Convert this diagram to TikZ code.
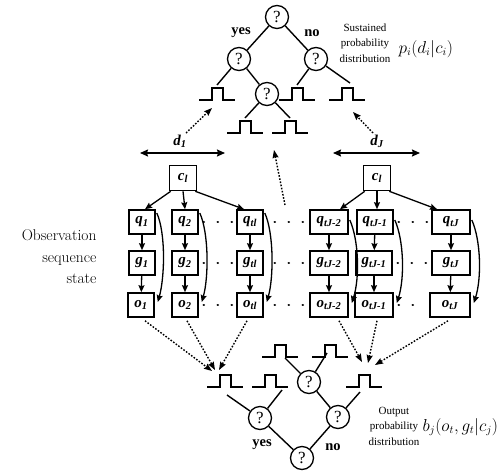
\documentclass[tikz,border=0pt]{standalone}
\usepackage{fontspec}
\newfontfamily\tnr{Liberation Serif}
\usetikzlibrary{arrows.meta,calc}
\begin{document}
\begin{tikzpicture}[x=1pt,y=-1pt,
  qnode/.style={circle,draw,line width=1.3pt,minimum size=23pt,inner sep=0pt,font=\tnr\fontsize{17}{17}\selectfont},
  tl/.style={line width=1.4pt},
  bx/.style={draw,line width=1.6pt,minimum height=24pt,inner sep=0pt,fill=white,font=\tnr\bfseries\itshape\fontsize{15}{15}\selectfont},
  arr/.style={line width=1.3pt,-{Stealth[length=7pt,width=6pt,inset=1pt]}},
  darr/.style={line width=1.4pt,dash pattern=on 1.6pt off 1.6pt,-{Stealth[length=8pt,width=6pt,inset=1pt]}},
  dbl/.style={line width=1.4pt,{Stealth[length=8pt,width=7pt,inset=1pt]}-{Stealth[length=8pt,width=7pt,inset=1pt]}},
  dots/.style={line width=2.8pt,line cap=round,dash pattern=on 0.01pt off 13.99pt},
  yn/.style={font=\tnr\bfseries\fontsize{14.5}{14.5}\selectfont},
  lbl/.style={font=\tnr\fontsize{11}{15.5}\selectfont,align=center},
  dlab/.style={font=\tnr\bfseries\itshape\fontsize{15}{15}\selectfont},
  fml/.style={anchor=west,font=\fontsize{16}{16}\selectfont},
  pulse/.pic={\draw[line width=1.5pt] (-18,0) -- (-5,0) -- (-5,-12) -- (6,-12) -- (6,0) -- (18,0);
    \coordinate (-top) at (0,-15); \coordinate (-c) at (0,0);}
]
\useasboundingbox (0,0) rectangle (501,474);

% ---------- top tree ----------
\node[qnode] (tR0) at (277,17) {?};
\node[qnode] (tL) at (239,59) {?};
\node[qnode] (tRt) at (316,59) {?};
\node[qnode] (tLR) at (267,94) {?};
\pic (T1) at (217,100) {pulse};
\pic (T2) at (245,133) {pulse};
\pic (T3) at (290,133) {pulse};
\pic (T4) at (297,100) {pulse};
\pic (T5) at (347,100) {pulse};
\draw[tl] (tR0) -- (tL);
\draw[tl] (tR0) -- (tRt);
\draw[tl] (tL) -- (T1-top);
\draw[tl] (tL) -- (tLR);
\draw[tl] (tLR) -- (T2-top);
\draw[tl] (tLR) -- (T3-top);
\draw[tl] (tRt) -- (T4-top);
\draw[tl] (tRt) -- ($(T5-top)+(3,-2)$);
\node[yn] (yesT) at (241,33) {yes};
\node[yn] (noT) at (312,33) {no};
\node[lbl] (sus) at (365,43) {Sustained\\probability\\distribution};
\node[fml] (pf) at (395,49) {$p_i\Bigl(d_i\Big|c_i\Bigr)$};

% ---------- duration arrows ----------
\coordinate (dLa) at (140,153);
\coordinate (dLb) at (225,153);
\coordinate (dRa) at (333,153);
\coordinate (dRb) at (420,153);
\draw[dbl] (dLa) -- (dLb);
\draw[dbl] (dRa) -- (dRb);
\node[dlab] (d1) at (180,141) {d\textsubscript{1}};
\node[dlab] (dJ) at (377,141) {d\textsubscript{J}};

\coordinate (s1) at (186,133);
\coordinate (e1) at (212,108);
\coordinate (s2) at (373,133);
\coordinate (e2) at (353,112);
\coordinate (s3) at (285,205);
\coordinate (e3) at (274,150);
\draw[darr] (s1) -- (e1);
\draw[darr] (s2) -- (e2);
\draw[darr] (s3) -- (e3);

% ---------- state boxes ----------
\node[bx,minimum width=27pt,minimum height=25pt] (cL) at (183,178) {c\textsubscript{l}};
\node[bx,minimum width=27pt,minimum height=25pt] (cR) at (377,178) {c\textsubscript{l}};

\node[bx,minimum width=26pt] (q1) at (142,222) {q\textsubscript{1}};
\node[bx,minimum width=26pt] (q2) at (185,222) {q\textsubscript{2}};
\node[bx,minimum width=26pt] (q3) at (250,222) {q\textsubscript{tl}};
\node[bx,minimum width=38pt] (q4) at (329,222) {q\textsubscript{tJ-2}};
\node[bx,minimum width=36pt] (q5) at (375,222) {q\textsubscript{tJ-1}};
\node[bx,minimum width=38pt] (q6) at (451,222) {q\textsubscript{tJ}};

\node[bx,minimum width=26pt] (g1) at (142,263) {g\textsubscript{1}};
\node[bx,minimum width=26pt] (g2) at (185,263) {g\textsubscript{2}};
\node[bx,minimum width=26pt] (g3) at (250,263) {g\textsubscript{tl}};
\node[bx,minimum width=38pt] (g4) at (329,263) {g\textsubscript{tJ-2}};
\node[bx,minimum width=36pt] (g5) at (374,263) {g\textsubscript{tJ-1}};
\node[bx,minimum width=38pt] (g6) at (451,263) {g\textsubscript{tJ}};

\node[bx,minimum width=26pt] (o1) at (141,305) {o\textsubscript{1}};
\node[bx,minimum width=26pt] (o2) at (185,305) {o\textsubscript{2}};
\node[bx,minimum width=26pt] (o3) at (250,305) {o\textsubscript{tl}};
\node[bx,minimum width=38pt] (o4) at (329,305) {o\textsubscript{tJ-2}};
\node[bx,minimum width=38pt] (o5) at (374,305) {o\textsubscript{tJ-1}};
\node[bx,minimum width=40pt] (o6) at (450,305) {o\textsubscript{tJ}};

% c -> q
\draw[arr] ($(cL.south west)+(2,0)$) -- ($(q1.north)+(3,0)$);
\draw[arr] (cL.south) -- (q2.north);
\draw[arr] ($(cL.south east)+(-2,0)$) -- ($(q3.north)+(-6,0)$);
\draw[arr] ($(cR.south west)+(2,0)$) -- ($(q4.north)+(11,0)$);
\draw[arr] (cR.south) -- ($(q5.north)+(2,0)$);
\draw[arr] ($(cR.south east)+(-2,0)$) -- ($(q6.north)+(-14,0)$);

% q -> g -> o
\foreach \i in {1,...,6}{
  \draw[arr] (q\i) -- (g\i);
  \draw[arr] (g\i) -- (o\i);
}

% curved q -> o
\foreach \i in {1,2,3}{
  \draw[arr] ($(q\i.east)+(1,-9)$) .. controls +(9,20) and +(7,-25) .. ($(o\i.east)+(3,-3)$);
}
\foreach \i in {4,5,6}{
  \draw[arr] ($(q\i.east)+(1,-2)$) .. controls +(9,20) and +(8,-25) .. ($(o\i.east)+(3,-2)$);
}

% dots
\foreach \r in {q,g,o}{
  \draw[dots,shorten <=5pt,shorten >=4pt] (\r2.east) -- (\r3.west);
  \draw[dots,shorten <=11pt,shorten >=6pt] (\r3.east) -- (\r4.west);
  \draw[dots,shorten <=5pt,shorten >=4pt] (\r5.east) -- (\r6.west);
}

\node[anchor=east,align=right,font=\fontsize{15.5}{21.5}\selectfont] (obs) at (100,257) {Observation\\sequence\\state};

% ---------- bottom tree ----------
\node[qnode] (bR0) at (302,458) {?};
\node[qnode] (bL) at (260,418) {?};
\node[qnode] (bR) at (338,417) {?};
\node[qnode] (bRL) at (309,382) {?};
\pic (B1) at (225,387) {pulse};
\pic (B2) at (270,387) {pulse};
\pic (B3) at (280,357) {pulse};
\pic (B4) at (330,357) {pulse};
\pic (B5) at (364,387) {pulse};
\draw[tl] (bR0) -- (bL);
\draw[tl] (bR0) -- (bR);
\draw[tl] (bR) -- (bRL);
\draw[tl] (bL) -- ($(B1-c)+(2,8)$);
\draw[tl] (bL) -- ($(B2-c)+(12,3)$);
\draw[tl] (bRL) -- ($(B3-c)+(5,1)$);
\draw[tl] (bRL) -- ($(B4-c)+(-3,-4)$);
\draw[tl] (bR) -- ($(B5-c)+(-4,5)$);
\node[yn] (yesB) at (262,445) {yes};
\node[yn] (noB) at (333,447) {no};
\node[lbl] (outp) at (394,426) {Output\\probability\\distribution};
\node[fml] (bf) at (419,427) {$b_j\Bigl(o_t,g_t\Big|c_j\Bigr)$};

% dotted arrows from outputs
\coordinate (f1) at (212,371);
\coordinate (f2) at (215,370);
\coordinate (f3) at (219,370);
\coordinate (f4) at (362,362);
\coordinate (f5) at (368,363);
\coordinate (f6) at (375,365);
\draw[darr] ($(o1.south)+(4,3)$) -- (f1);
\draw[darr] ($(o2.south)+(2,3)$) -- (f2);
\draw[darr] ($(o3.south)+(-3,3)$) -- (f3);
\draw[darr] ($(o4.south)+(10,3)$) -- (f4);
\draw[darr] ($(o5.south)+(3,3)$) -- (f5);
\draw[darr] ($(o6.south)+(-2,3)$) -- (f6);
\end{tikzpicture}
\end{document}
